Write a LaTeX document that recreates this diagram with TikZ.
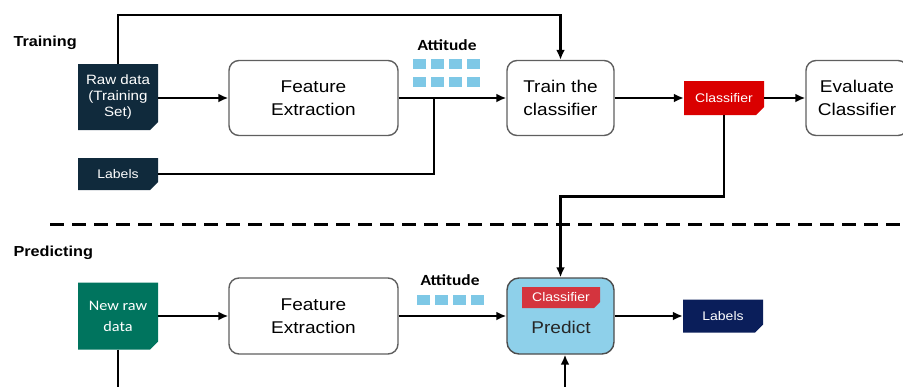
\documentclass[tikz,border=0pt]{standalone}
\usepackage{fontspec}
\setmainfont[FakeStretch=1.12]{Liberation Sans}
\newfontfamily\calibri[FakeStretch=1.12]{Carlito}
\usetikzlibrary{arrows.meta,shapes.misc}

\definecolor{docnavy}{RGB}{16,42,60}
\definecolor{clfred}{RGB}{218,0,0}
\definecolor{newgreen}{RGB}{0,116,94}
\definecolor{attblue}{RGB}{126,200,230}
\definecolor{predblue}{RGB}{142,208,234}
\definecolor{innerred}{RGB}{212,52,62}
\definecolor{outnavy}{RGB}{10,30,90}
\definecolor{boxgray}{RGB}{95,95,95}

\tikzset{
  stepbox/.style={draw=boxgray, line width=1.4pt, rounded corners=10pt,
    minimum width=169pt, minimum height=75pt, inner sep=0pt, align=center,
    font=\fontsize{17}{23}\selectfont},
  docnode/.style={chamfered rectangle, chamfered rectangle corners=south east,
    chamfered rectangle sep=4pt, minimum width=80pt, inner sep=0pt,
    text=white, align=center},
  attsq/.style={fill=attblue, minimum width=13pt, minimum height=10pt, inner sep=0pt},
  arrowline/.style={line width=2.6pt, -{Latex[length=10pt,width=9pt]}},
  wire/.style={line width=2.6pt},
  phase/.style={anchor=west, font=\bfseries\fontsize{14.5}{17}\selectfont},
  attlabel/.style={font=\calibri\bfseries\fontsize{15.5}{18}\selectfont}
}

\begin{document}
\begin{tikzpicture}[x=1pt, y=-1pt]
    \useasboundingbox (0,0) rectangle (903,386);
    \clip (0,0) rectangle (903,386);

    % Training
    \node[phase] (training) at (10,43) {Training};
    \node[docnode, fill=docnavy, minimum height=66pt,
      font=\fontsize{13.5}{16}\selectfont] (rawdata) at (118,97) {Raw data\\(Training\\Set)};
    \node[docnode, fill=docnavy, minimum height=32pt,
      font=\fontsize{12.5}{15}\selectfont] (labelsin) at (118,174) {Labels};
    \node[stepbox] (feature1) at (313.5,98) {Feature\\Extraction};
    \node[attlabel] (attitude1) at (447,45) {Attitude};
    \foreach \i in {0,...,3}
    {
        \node[attsq] (sqa\i) at (419.5+18*\i,64) {};
        \node[attsq] (sqb\i) at (419.5+18*\i,82) {};
    }
    \node[stepbox, minimum width=107pt] (train) at (560.5,98) {Train the\\classifier};
    \node[docnode, fill=clfred, minimum height=34pt,
      font=\fontsize{12.5}{15}\selectfont] (classifier) at (724,98) {Classifier};
    \node[stepbox, minimum width=102pt] (evaluate) at (857,98) {Evaluate\\Classifier};

    \coordinate (join1) at (434,98);
    \draw[arrowline] (rawdata.east |- feature1.west) -- (feature1.west);
    \draw[arrowline] (feature1.east) -- (train.west);
    \draw[wire] (labelsin.east) -| (join1);
    \draw[arrowline] (rawdata.north) -- ++(0,-49) -| (train.north);
    \draw[arrowline] (train.east) -- (classifier.west);
    \draw[arrowline] (classifier.east) -- (evaluate.west);

    \draw[line width=3pt, dash pattern=on 14pt off 8pt] (50,224) -- (903,224);

    % Predicting
    \node[phase] (predicting) at (10,253) {Predicting};
    \node[docnode, fill=newgreen, minimum height=67pt,
      font=\calibri\fontsize{14.5}{21}\selectfont] (newraw) at (118,316) {New raw\\data};
    \node[stepbox, minimum height=76pt] (feature2) at (313.5,316) {Feature\\Extraction};
    \node[attlabel] (attitude2) at (450,280) {Attitude};
    \foreach \i in {0,...,3}
        \node[attsq] (sqc\i) at (423.5+18*\i,299.5) {};
    \node[stepbox, minimum width=107pt, minimum height=76pt, fill=predblue,
      draw=boxgray!80!black, rounded corners=12pt] (predict) at (560.5,316) {};
    \node[docnode, fill=innerred, minimum width=78pt, minimum height=21pt,
      chamfered rectangle sep=3pt, font=\fontsize{12.5}{15}\selectfont] (innerclf) at (561,297.5) {Classifier};
    \node[font=\fontsize{17}{20}\selectfont, text=black!85] (predtext) at (561,327) {Predict};
    \node[docnode, fill=outnavy, minimum height=33pt,
      font=\fontsize{12.5}{15}\selectfont] (labelsout) at (723,316) {Labels};

    \coordinate (bottomL) at (118,392);
    \coordinate (bottomR) at (565,392);
    \draw[arrowline] (classifier.south) -- ++(0,81) -| (predict.north);
    \draw[arrowline] (newraw.east) -- (feature2.west);
    \draw[arrowline] (feature2.east) -- (predict.west);
    \draw[arrowline] (predict.east) -- (labelsout.west);
    \draw[wire] (newraw.south) -- (bottomL);
    \draw[arrowline] (bottomR) -- (bottomR |- predict.south);

\end{tikzpicture}
\end{document}
